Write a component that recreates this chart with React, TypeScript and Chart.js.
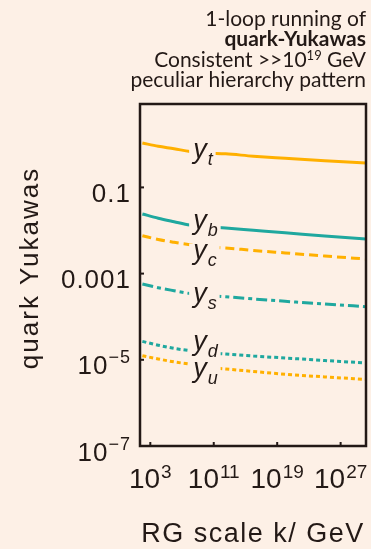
import { useEffect, useRef } from 'react';
import { Chart, registerables } from 'chart.js';

Chart.register(...registerables);

// ---------- data ----------
// RG scale k in GeV
const kValues = [1e2, 1e4, 1e6, 1e8, 1e10, Math.pow(10, 12.5), 1e16, 1e20, 1e25, Math.pow(10, 30.2)];
const yukawaTop = [1.07, 0.9, 0.79, 0.68, 0.63, 0.6, 0.53, 0.475, 0.416, 0.368];
const yukawaBottom = [0.0242, 0.0193, 0.016, 0.0134, 0.01225, 0.01143, 0.01016, 0.00889, 0.00745, 0.00635];
const yukawaCharm = [0.00757, 0.00618, 0.00532, 0.00469, 0.00421, 0.00393, 0.00345, 0.00302, 0.00256, 0.00218];
const yukawaStrange = [5.74e-4, 4.71e-4, 4.01e-4, 3.45e-4, 3.15e-4, 2.91e-4, 2.58e-4, 2.28e-4, 1.96e-4, 1.71e-4];
const yukawaDown = [2.67e-5, 2.18e-5, 1.84e-5, 1.63e-5, 1.48e-5, 1.36e-5, 1.22e-5, 1.1e-5, 9.64e-6, 8.43e-6];
const yukawaUp = [1.245e-5, 1.045e-5, 8.94e-6, 7.91e-6, 6.81e-6, 6.12e-6, 5.36e-6, 4.63e-6, 4.01e-6, 3.51e-6];

const seriesSubs = ['t', 'b', 'c', 's', 'd', 'u'];

const yTickValues = [0.1, 0.001, 1e-5, 1e-7];
const yTickBase = ['0.1', '0.001', '10', '10'];
const yTickExp = ['', '', '\u22125', '\u22127'];
const xTickValues = [1e3, 1e11, 1e19, 1e27];
const xTickBase = ['10', '10', '10', '10'];
const xTickExp = ['3', '11', '19', '27'];

const titleLine1 = '1-loop running of';
const titleLine2 = 'quark-Yukawas';
const titleLine3a = 'Consistent >>10';
const titleLine3sup = '19';
const titleLine3b = ' GeV';
const titleLine4 = 'peculiar hierarchy pattern';
const yAxisTitle = 'quark Yukawas';
const xAxisTitle = 'RG scale k/ GeV';

// ---------- styles ----------
const BG = '#fdf0e6';
const INK = '#231916';
const ORANGE = '#ffb000';
const TEAL = '#1fa89f';
const SANS = '"Liberation Sans", Arial, sans-serif';
const LATO = 'Lato, "Open Sans", sans-serif';

const X_MIN = Math.pow(10, 1.7);
const X_MAX = Math.pow(10, 30.2);
const Y_MIN = 1e-7;
const Y_MAX = Math.pow(10, 0.935);
const LABEL_K = Math.pow(10, 8.4);

const seriesData = [yukawaTop, yukawaBottom, yukawaCharm, yukawaStrange, yukawaDown, yukawaUp];
const seriesColors = [ORANGE, TEAL, ORANGE, TEAL, TEAL, ORANGE];
const seriesDash: number[][] = [[], [], [9, 5], [11, 4, 4, 4], [4, 3], [4, 3]];
const labelDy = [1.5, -1.5, 8, 3, -6, 6];

const overlayPlugin = {
  id: 'overlay',
  afterDatasetsDraw(chart: any) {
    const { ctx, chartArea: a, scales } = chart;
    const xs = scales.x;
    const ys = scales.y;
    ctx.save();
    ctx.textAlign = 'left';
    ctx.textBaseline = 'alphabetic';

    // curve labels with background knock-out
    seriesSubs.forEach((sub, i) => {
      const pts = chart.getDatasetMeta(i).data;
      const left = xs.getPixelForValue(LABEL_K);
      ctx.font = `italic 27px ${SANS}`;
      const wm = ctx.measureText('y').width;
      ctx.font = `italic 18px ${SANS}`;
      const ws = ctx.measureText(sub).width;
      const cx = left + (wm + ws) / 2;
      let ly = pts[0].y;
      for (let j = 0; j < pts.length - 1; j++) {
        if (cx >= pts[j].x && cx <= pts[j + 1].x) {
          const t = (cx - pts[j].x) / (pts[j + 1].x - pts[j].x);
          ly = pts[j].y + t * (pts[j + 1].y - pts[j].y);
        }
      }
      const center = ly + labelDy[i];
      ctx.fillStyle = BG;
      ctx.fillRect(left - 4, center - 11, wm + ws + 8, 22);
      ctx.fillStyle = INK;
      const base = center + 4;
      ctx.font = `italic 27px ${SANS}`;
      ctx.fillText('y', left, base);
      ctx.font = `italic 18px ${SANS}`;
      ctx.fillText(sub, left + wm + 1, base + 7);
    });

    // frame
    ctx.strokeStyle = INK;
    ctx.lineWidth = 2.5;
    ctx.strokeRect(a.left, a.top, a.right - a.left, a.bottom - a.top);

    // ticks
    ctx.lineWidth = 2;
    yTickValues.forEach((v) => {
      const y = ys.getPixelForValue(v);
      ctx.beginPath();
      ctx.moveTo(a.left, y);
      ctx.lineTo(a.left + 4, y);
      ctx.stroke();
    });
    xTickValues.forEach((v) => {
      const x = xs.getPixelForValue(v);
      ctx.beginPath();
      ctx.moveTo(x, a.bottom);
      ctx.lineTo(x, a.bottom - 4);
      ctx.stroke();
    });

    // y tick labels
    ctx.fillStyle = INK;
    (ctx as any).letterSpacing = '1px';
    yTickValues.forEach((v, i) => {
      const y = ys.getPixelForValue(v) + 14.5;
      const right = a.left - 9;
      ctx.font = `18px ${SANS}`;
      const we = yTickExp[i] ? ctx.measureText(yTickExp[i]).width : 0;
      if (yTickExp[i]) {
        ctx.textAlign = 'right';
        ctx.fillText(yTickExp[i], right, y - 11);
      }
      ctx.font = `26px ${SANS}`;
      ctx.textAlign = 'right';
      ctx.fillText(yTickBase[i], right - we, y);
    });

    // x tick labels
    (ctx as any).letterSpacing = '0px';
    xTickValues.forEach((v, i) => {
      const x = xs.getPixelForValue(v);
      ctx.font = `28px ${SANS}`;
      const wb = ctx.measureText(xTickBase[i]).width;
      ctx.font = `19px ${SANS}`;
      const we = ctx.measureText(xTickExp[i]).width;
      const start = x - (wb + 1 + we) / 2;
      const base = a.bottom + 42;
      ctx.textAlign = 'left';
      ctx.font = `28px ${SANS}`;
      ctx.fillText(xTickBase[i], start, base);
      ctx.font = `19px ${SANS}`;
      ctx.fillText(xTickExp[i], start + wb + 1, base - 10);
    });
    ctx.restore();
  },
  afterDraw(chart: any) {
    const { ctx, chartArea: a } = chart;
    ctx.save();
    ctx.fillStyle = INK;
    ctx.textBaseline = 'alphabetic';

    // x axis title
    (ctx as any).letterSpacing = '1.5px';
    ctx.font = `27px ${SANS}`;
    ctx.textAlign = 'center';
    ctx.fillText(xAxisTitle, (a.left + a.right) / 2, 542);

    // y axis title
    (ctx as any).letterSpacing = '2px';
    ctx.font = `26px ${SANS}`;
    ctx.translate(38, 268);
    ctx.rotate(-Math.PI / 2);
    ctx.fillText(yAxisTitle, 0, 0);
    ctx.setTransform(1, 0, 0, 1, 0, 0);

    // top-right title
    (ctx as any).letterSpacing = '0px';
    const R = 366;
    ctx.textAlign = 'right';
    ctx.font = `21px ${LATO}`;
    ctx.fillText(titleLine1, R, 26);
    ctx.font = `bold 21px ${LATO}`;
    ctx.fillText(titleLine2, R, 46);
    ctx.font = `21px ${LATO}`;
    ctx.fillText(titleLine4, R, 87);
    // line 3 with superscript
    const wb = ctx.measureText(titleLine3b).width;
    ctx.fillText(titleLine3b, R, 67);
    ctx.font = `13px ${LATO}`;
    const ws = ctx.measureText(titleLine3sup).width;
    ctx.fillText(titleLine3sup, R - wb, 60);
    ctx.font = `21px ${LATO}`;
    ctx.fillText(titleLine3a, R - wb - ws, 67);
    ctx.restore();
  },
};

export default function App() {
  const canvasRef = useRef<HTMLCanvasElement | null>(null);

  useEffect(() => {
    document.body.style.margin = '0';
    document.body.style.background = BG;
    const canvas = canvasRef.current;
    if (!canvas) return;
    const chart = new Chart(canvas, {
      type: 'line',
      data: {
        datasets: seriesData.map((vals, i) => ({
          label: 'y_' + seriesSubs[i],
          data: vals.map((v, j) => ({ x: kValues[j], y: v })),
          borderColor: seriesColors[i],
          borderWidth: 3,
          borderDash: seriesDash[i],
          borderCapStyle: 'butt' as const,
          pointRadius: 0,
          fill: false,
          cubicInterpolationMode: 'monotone' as const,
        })),
      },
      options: {
        animation: false,
        responsive: false,
        devicePixelRatio: 1,
        layout: { padding: { left: 140, top: 104, right: 5, bottom: 103 } },
        plugins: { legend: { display: false }, tooltip: { enabled: false }, title: { display: false } },
        scales: {
          x: { type: 'logarithmic', min: X_MIN, max: X_MAX, display: false },
          y: { type: 'logarithmic', min: Y_MIN, max: Y_MAX, display: false },
        },
      },
      plugins: [overlayPlugin],
    });
    return () => chart.destroy();
  }, []);

  return (
    <div style={{ width: 371, height: 549, background: BG }}>
      <canvas ref={canvasRef} width={371} height={549} style={{ display: 'block' }} />
    </div>
  );
}
